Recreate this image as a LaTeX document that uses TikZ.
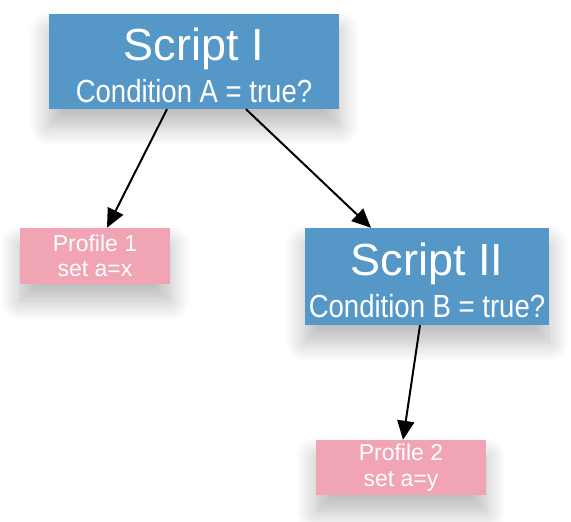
\documentclass[tikz,border=0pt]{standalone}
\usepackage{fontspec}
\setmainfont{Liberation Sans}
\newfontfamily\narrowfont[FakeStretch=0.86]{Liberation Sans}
\usetikzlibrary{arrows.meta,shadows.blur}
\definecolor{scriptblue}{RGB}{85,151,198}
\definecolor{profilepink}{RGB}{240,164,180}
\newcommand\scripttitle[1]{{\normalfont\fontsize{45}{45}\selectfont\rule{0pt}{40pt}#1}}
\begin{document}
\begin{tikzpicture}[x=1pt,y=-1pt,
	soft/.style={blur shadow={shadow xshift=0pt,shadow yshift=-17pt,shadow blur radius=20pt,shadow blur steps=14,shadow opacity=28}},
	script/.style={soft,fill=scriptblue,text=white,align=center,inner sep=0pt,font=\narrowfont\fontsize{32}{42}\selectfont},
	profile/.style={soft,fill=profilepink,text=white,align=center,inner sep=0pt,font=\fontsize{23}{25.5}\selectfont},
	link/.style={line width=2pt,-{Triangle[length=19pt,width=17pt]}}]
	\useasboundingbox (0,0) rectangle (571,522);
	\node [script,minimum width=290pt,minimum height=95pt] (scriptI) at (194,61.5) {\scripttitle{Script I}\\Condition A = true?};
	\node [script,minimum width=244pt,minimum height=97pt] (scriptII) at (427,276.5) {\scripttitle{Script II}\\Condition B = true?};
	\node [profile,minimum width=150pt,minimum height=56pt] (profileA) at (95,256) {Profile 1\\set a=x};
	\node [profile,minimum width=170pt,minimum height=55pt] (profileB) at (401,467.5) {Profile 2\\set a=y};
	\draw [link] ([xshift=-27pt]scriptI.south) -- ([xshift=12pt]profileA.north);
	\draw [link] ([xshift=52pt]scriptI.south) -- ([xshift=-56pt]scriptII.north);
	\draw [link] ([xshift=-7pt]scriptII.south) -- ([xshift=2pt]profileB.north);
\end{tikzpicture}
\end{document}
